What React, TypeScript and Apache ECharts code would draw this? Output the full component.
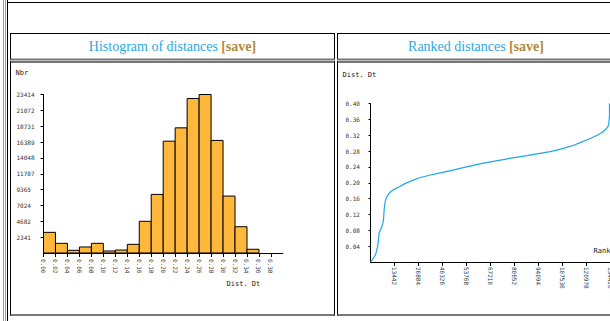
import React, { useEffect, useRef } from "react";
import * as echarts from "echarts";

// Histogram of distances
const histEdges = [0.0, 0.02, 0.04, 0.06, 0.08, 0.1, 0.12, 0.14, 0.16, 0.18, 0.2, 0.22, 0.24, 0.26, 0.28, 0.3, 0.32, 0.34, 0.36];
const histCounts = [3050, 1430, 400, 890, 1430, 300, 440, 1280, 4680, 8660, 16520, 18490, 22820, 23414, 16630, 8410, 3880, 550];
const histXTicks = [0.0, 0.02, 0.04, 0.06, 0.08, 0.1, 0.12, 0.14, 0.16, 0.18, 0.2, 0.22, 0.24, 0.26, 0.28, 0.3, 0.32, 0.34, 0.36, 0.38];
const histYTicks = [2341, 4682, 7024, 9365, 11707, 14048, 16389, 18731, 21072, 23414];

// Ranked distances
const rankValues = [0, 1126, 2065, 3004, 3567, 4130, 4506, 4881, 5820, 6759, 7322, 7697, 8260, 9012, 10138, 11452, 13517, 16146, 19900, 26847, 33042, 40364, 46184, 53694, 61203, 67211, 74345, 80540, 87486, 94057, 100628, 107575, 113770, 117525, 122219, 126912, 129728, 131606, 132920, 133483, 133858, 133858];
const distValues = [0, 0.0067, 0.0126, 0.021, 0.032, 0.042, 0.059, 0.074, 0.084, 0.094, 0.109, 0.135, 0.153, 0.164, 0.172, 0.178, 0.184, 0.19, 0.199, 0.212, 0.219, 0.226, 0.232, 0.24, 0.2475, 0.2526, 0.2585, 0.2636, 0.2686, 0.2737, 0.2787, 0.2863, 0.2947, 0.3014, 0.3099, 0.32, 0.3267, 0.3343, 0.341, 0.3494, 0.3705, 0.4];
const rankXTicks = [13442, 26884, 40326, 53768, 67210, 80652, 94094, 107536, 120978, 134420];
const rankYTicks = [0.04, 0.08, 0.12, 0.16, 0.2, 0.24, 0.28, 0.32, 0.36, 0.4];
const rankAxisMax = 147862;

const MONO = "DejaVu Sans Mono";
const SERIF = "Liberation Serif";
const BLUE = "#2aa9e0";
const GOLD = "#b58a3a";
const BAR = "#ffb83c";
const LINE = "#1ba6e8";

export default function App() {
  const ref = useRef<HTMLDivElement>(null);
  useEffect(() => {
    if (!ref.current) return;
    const chart = echarts.init(ref.current, null, { renderer: "svg" });
    const tickLabel = { fontSize: 6, fontFamily: MONO, color: "#333" };
    const axisLine = { show: true, lineStyle: { color: "#000", width: 1 } };

    const vline = (x: number, y1: number, y2: number, color: string, w = 1) => ({
      type: "line", silent: true, shape: { x1: x, y1, x2: x, y2 }, style: { stroke: color, lineWidth: w },
    });
    const hline = (y: number, x1: number, x2: number, color: string, w = 1) => ({
      type: "line", silent: true, shape: { x1, y1: y, x2, y2: y }, style: { stroke: color, lineWidth: w },
    });

    const cell = (x1: number, x2: number) => [
      // title cell
      hline(33.5, x1, x2, "#000"),
      vline(x1, 33, 60, "#000"),
      vline(x2, 33, 60, "#000"),
      hline(59.5, x1, x2, "#777", 2),
      // content cell
      hline(62, x1, x2, "#777", 2),
      vline(x1, 61, 316, "#000"),
      vline(x2, 61, 316, "#000"),
      hline(315, x1, x2, "#777", 2),
    ];

    const option: any = {
      animation: false,
      grid: [
        { left: 43.5, top: 94.5, width: 239.4, height: 158.5 },
        { left: 370.5, top: 103.5, width: 264, height: 158.5 },
      ],
      xAxis: [
        {
          gridIndex: 0, type: "value", min: 0, max: 0.4,
          axisLine,
          axisTick: { show: true, customValues: histXTicks, length: 4, lineStyle: { color: "#000" } },
          axisLabel: { ...tickLabel, customValues: histXTicks, rotate: -90, margin: 6, formatter: (v: number) => v.toFixed(2) },
          splitLine: { show: false },
        },
        {
          gridIndex: 1, type: "value", min: 0, max: rankAxisMax,
          axisLine,
          axisTick: { show: true, customValues: rankXTicks, length: 4, lineStyle: { color: "#000" } },
          axisLabel: { ...tickLabel, customValues: rankXTicks, rotate: -90, margin: 5, formatter: (v: number) => String(v) },
          splitLine: { show: false },
        },
      ],
      yAxis: [
        {
          gridIndex: 0, type: "value", min: 0, max: 23414,
          axisLine,
          axisTick: { show: true, customValues: histYTicks, length: 3, lineStyle: { color: "#000" } },
          axisLabel: { ...tickLabel, customValues: histYTicks, align: "left", margin: 27, padding: [0, 0, 4, 0], formatter: (v: number) => String(v) },
          splitLine: { show: false },
        },
        {
          gridIndex: 1, type: "value", min: 0, max: 0.4,
          axisLine,
          axisTick: { show: true, customValues: rankYTicks, length: 2, lineStyle: { color: "#000" } },
          axisLabel: { ...tickLabel, customValues: rankYTicks, align: "left", margin: 25, padding: [0, 0, 5, 0], formatter: (v: number) => v.toFixed(2) },
          splitLine: { show: false },
        },
      ],
      series: [
        {
          type: "custom",
          xAxisIndex: 0, yAxisIndex: 0,
          encode: { x: [0, 1], y: 2 },
          data: histCounts.map((c, i) => [histEdges[i], histEdges[i + 1], c]),
          renderItem: (params: any, api: any) => {
            const p0 = api.coord([api.value(0), 0]);
            const p1 = api.coord([api.value(1), api.value(2)]);
            return {
              type: "rect",
              shape: { x: p0[0], y: p1[1], width: p1[0] - p0[0], height: p0[1] - p1[1] },
              style: { fill: BAR, stroke: "#000", lineWidth: 1 },
            };
          },
        },
        {
          type: "line",
          xAxisIndex: 1, yAxisIndex: 1,
          data: rankValues.map((r, i) => [r, distValues[i]]),
          showSymbol: false,
          symbol: "none",
          lineStyle: { color: LINE, width: 1.2 },
        },
      ],
      graphic: [
        vline(3.5, 0, 321, "#9a9a9a"),
        vline(5.5, 0, 321, "#9a9a9a"),
        vline(7.5, 0, 321, "#000"),
        hline(2.5, 7, 660, "#000"),
        ...cell(10.5, 334.5),
        ...cell(337.5, 655),
        {
          type: "text", x: 172.5, y: 46, silent: true,
          style: {
            text: "{t|Histogram of distances} {s|[save]}",
            align: "center", verticalAlign: "middle",
            rich: {
              t: { fontFamily: SERIF, fontSize: 14, fill: BLUE },
              s: { fontFamily: SERIF, fontSize: 14, fill: GOLD, fontWeight: "bold" },
            },
          },
        },
        {
          type: "text", x: 476, y: 46, silent: true,
          style: {
            text: "{t|Ranked distances} {s|[save]}",
            align: "center", verticalAlign: "middle",
            rich: {
              t: { fontFamily: SERIF, fontSize: 14, fill: BLUE },
              s: { fontFamily: SERIF, fontSize: 14, fill: GOLD, fontWeight: "bold" },
            },
          },
        },
        { type: "text", x: 15.5, y: 72.5, silent: true, style: { text: "Nbr", fontFamily: MONO, fontSize: 7, fill: "#222", verticalAlign: "middle" } },
        { type: "text", x: 226.5, y: 283.5, silent: true, style: { text: "Dist. Dt", fontFamily: MONO, fontSize: 7, fill: "#222", verticalAlign: "middle" } },
        { type: "text", x: 342.5, y: 75, silent: true, style: { text: "Dist. Dt", fontFamily: MONO, fontSize: 7, fill: "#222", verticalAlign: "middle" } },
        { type: "text", x: 593.5, y: 251, silent: true, style: { text: "Rank", fontFamily: MONO, fontSize: 7, fill: "#222", verticalAlign: "middle" } },
      ],
    };
    chart.setOption(option);
    return () => chart.dispose();
  }, []);
  return (
    <div style={{ position: "absolute", left: 0, top: 0, width: 610, height: 321, overflow: "hidden", background: "#fff" }}>
      <div ref={ref} style={{ width: 660, height: 321 }} />
    </div>
  );
}
